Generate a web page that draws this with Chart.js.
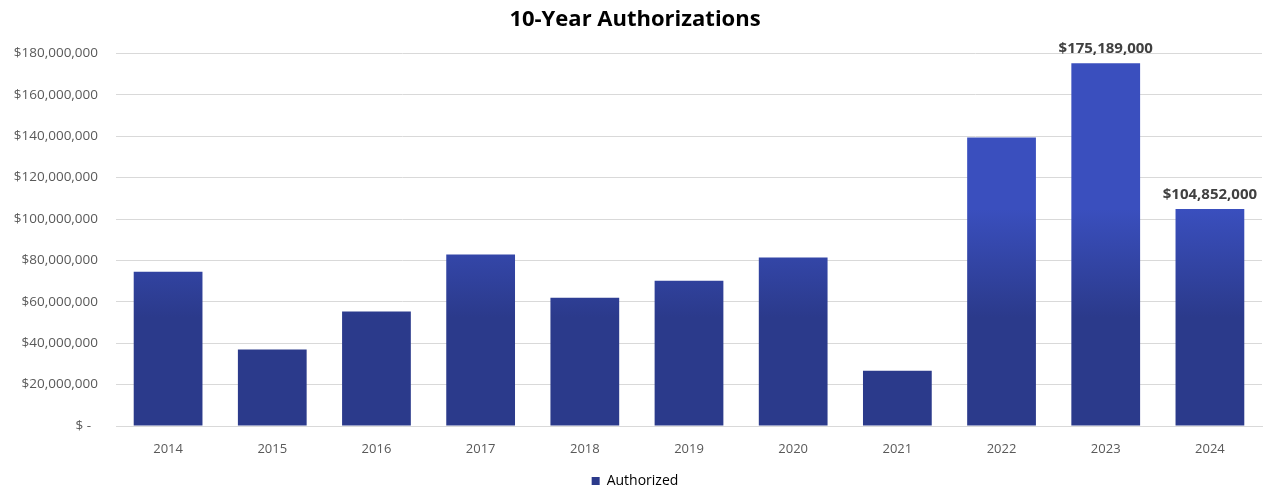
<!DOCTYPE html>
<html>
<head>
<meta charset="utf-8">
<title>10-Year Authorizations</title>
<script src="https://cdn.jsdelivr.net/npm/chart.js@4.4.1/dist/chart.umd.min.js"></script>
<style>
  html, body { margin: 0; padding: 0; background: #fff; }
  #wrap { width: 1268px; height: 491px; }
</style>
</head>
<body>
<div id="wrap"><canvas id="auth-chart" width="1268" height="491"></canvas></div>
<script>
// Yearly authorization totals (USD)
const years = ['2014', '2015', '2016', '2017', '2018', '2019', '2020', '2021', '2022', '2023', '2024'];
const authorized = [74500000, 36900000, 55300000, 82800000, 62000000, 70200000, 81400000, 26700000, 139400000, 175189000, 104852000];
// Only the last two years carry a printed value
const valueLabels = [null, null, null, null, null, null, null, null, null, '$175,189,000', '$104,852,000'];
const yTicks = [0, 20000000, 40000000, 60000000, 80000000, 100000000, 120000000, 140000000, 160000000, 180000000];

const fontFamily = "'Open Sans', 'Noto Sans', sans-serif";
const barTop = '#3a4fbe';
const barBottom = '#2b3a8b';

// accounting-style: zero shows as a dash, with a trailing space
function money(v) {
    if (v === 0) return '$ -  ';
    return '$' + v.toLocaleString('en-US');
}

// Each bar gets its own vertical gradient, lighter at the top.
// Done here because element positions are only known after layout.
const barGradientPlugin = {
    id: 'barGradient',
    beforeDatasetsDraw(chart) {
        const ctx = chart.ctx;
        chart.getDatasetMeta(0).data.forEach(function(bar) {
            const top = bar.y, base = bar.base;
            if (!isFinite(top) || !isFinite(base) || base - top < 1) return;
            const g = ctx.createLinearGradient(0, top, 0, base);
            g.addColorStop(0, barTop);
            g.addColorStop(0.5, barBottom);
            g.addColorStop(1, barBottom);
            bar.options.backgroundColor = g;
        });
    }
};

const valueLabelPlugin = {
    id: 'valueLabels',
    afterDatasetsDraw(chart) {
        const ctx = chart.ctx;
        const meta = chart.getDatasetMeta(0);
        ctx.save();
        ctx.font = 'bold 15px ' + fontFamily;
        ctx.fillStyle = '#404040';
        ctx.textAlign = 'center';
        ctx.textBaseline = 'alphabetic';
        meta.data.forEach(function(bar, i) {
            if (!valueLabels[i]) return;
            ctx.fillText(valueLabels[i], bar.x, bar.y - 10);
        });
        ctx.restore();
    }
};

new Chart(document.getElementById('auth-chart'), {
    type: 'bar',
    data: {
        labels: years,
        datasets: [{
            label: 'Authorized',
            data: authorized,
            backgroundColor: barBottom,
            borderWidth: 0,
            categoryPercentage: 0.66,
            barPercentage: 1.0
        }]
    },
    options: {
        responsive: false,
        animation: false,
        devicePixelRatio: 1,
        layout: { padding: { left: 8, right: 6, top: 2, bottom: -7 } },
        scales: {
            x: {
                grid: { display: false },
                border: { display: true, color: '#d9d9d9' },
                ticks: { color: '#595959', font: { family: fontFamily, size: 13 }, padding: 7 },
                afterFit(axis) { axis.height = 48; }
            },
            y: {
                min: 0,
                max: 180000000,
                afterBuildTicks(axis) {
                    axis.ticks = yTicks.map(function(v) { return { value: v }; });
                },
                afterFit(axis) { axis.width = 108; },
                grid: { color: '#d9d9d9', drawTicks: false },
                border: { display: false },
                ticks: {
                    color: '#595959',
                    font: { family: fontFamily, size: 13.5 },
                    padding: 18,
                    callback: function(v) { return money(v); }
                }
            }
        },
        plugins: {
            title: {
                display: true,
                text: '10-Year Authorizations',
                color: '#000',
                font: { family: fontFamily, size: 22, weight: 'bold' },
                padding: { top: 5, bottom: 20 }
            },
            legend: {
                position: 'bottom',
                labels: {
                    color: '#595959',
                    font: { family: fontFamily, size: 14 },
                    boxWidth: 8,
                    boxHeight: 8,
                    padding: 0,
                    generateLabels: function() {
                        return [{ text: 'Authorized', fillStyle: barBottom, strokeStyle: barBottom, lineWidth: 0 }];
                    }
                }
            },
            tooltip: { enabled: false }
        }
    },
    plugins: [barGradientPlugin, valueLabelPlugin]
});
</script>
</body>
</html>
